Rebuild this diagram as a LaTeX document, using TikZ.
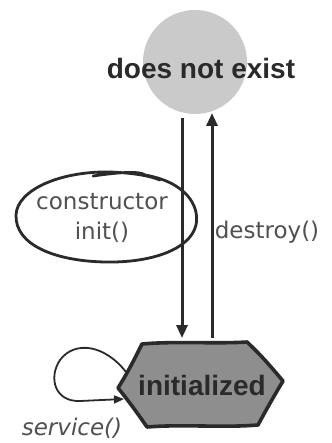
\documentclass[tikz,border=0pt]{standalone}
\usepackage{fontspec}
\setmainfont{Liberation Sans}
\newfontfamily\comicfont{DejaVu Sans}
\usetikzlibrary{arrows.meta}
\definecolor{ink}{HTML}{2A2A2A}
\definecolor{hand}{HTML}{505050}
\definecolor{ballfill}{HTML}{CACACA}
\definecolor{hexfill}{HTML}{8E8E8E}
\tikzset{
  boldlabel/.style={font=\bfseries\fontsize{28}{30}\selectfont, text=ink, inner sep=0pt},
  statelabel/.style={font=\bfseries\fontsize{28}{30}\selectfont, text=ink, inner sep=0pt},
  handlabel/.style={font=\comicfont\fontsize{23}{26}\selectfont, text=hand, inner sep=0pt},
  handitalic/.style={font=\comicfont\itshape\fontsize{23}{26}\selectfont, text=hand, inner sep=0pt},
  flow/.style={draw=ink, line width=3pt, -{Triangle[length=13pt,width=11pt]}},
  loopline/.style={draw=ink, line width=1.8pt, -{Triangle[length=10pt,width=8pt]}},
}
\begin{document}
\begin{tikzpicture}[x=1pt,y=-1pt]
\useasboundingbox (0,0) rectangle (331,443);
\fill[white] (0,0) rectangle (331,443);
% does not exist state
\node[circle, minimum size=104pt, inner sep=0pt, fill=ballfill] (dne) at (195,62) {};
\node[boldlabel] (dnetext) at (201,68) {does not exist};
% initialized state (hand drawn hexagon)
\draw[draw=ink, line width=3.6pt, fill=hexfill, line join=round]
  (118,388) .. controls (128,372) and (134,360) .. (142,344)
  .. controls (175,341) and (215,344) .. (247,342)
  .. controls (262,356) and (272,368) .. (283,381)
  .. controls (274,396) and (266,410) .. (258,425)
  .. controls (220,428) and (185,424) .. (147,427)
  .. controls (138,414) and (128,400) .. (118,388) -- cycle;
\node[statelabel] (init) at (202,385) {initialized};
\coordinate (inTop) at (182,338);
\coordinate (outTop) at (212,338);
\coordinate (outBot) at (182,118);
\coordinate (inBot) at (212,113);
% arrows
\draw[flow] (outBot) -- (inTop);
\draw[flow] (outTop) -- (inBot);
% constructor ellipse
\node[handlabel] (ctor) at (102,202) {constructor};
\node[handlabel] (initcall) at (102,232) {init()};
\draw[draw=ink, line width=2.8pt, line cap=round]
  (93,176) .. controls (120,172) and (140,171) .. (145,175)
  .. controls (185,182) and (200,205) .. (196,225)
  .. controls (190,250) and (150,263) .. (105,262)
  .. controls (55,261) and (15,245) .. (16,215)
  .. controls (17,190) and (60,171) .. (110,172)
  .. controls (135,173) and (150,176) .. (160,180);
% destroy label
\node[handlabel] (destroy) at (267,232) {destroy()};
% service self loop
\coordinate (loopStart) at (126,372);
\coordinate (loopEnd) at (124,399);
\draw[loopline] (loopStart) .. controls (105,345) and (75,340) .. (60,360)
  .. controls (48,378) and (55,402) .. (80,401)
  -- (loopEnd);
\node[handitalic] (service) at (72,428) {service()};
\end{tikzpicture}
\end{document}
